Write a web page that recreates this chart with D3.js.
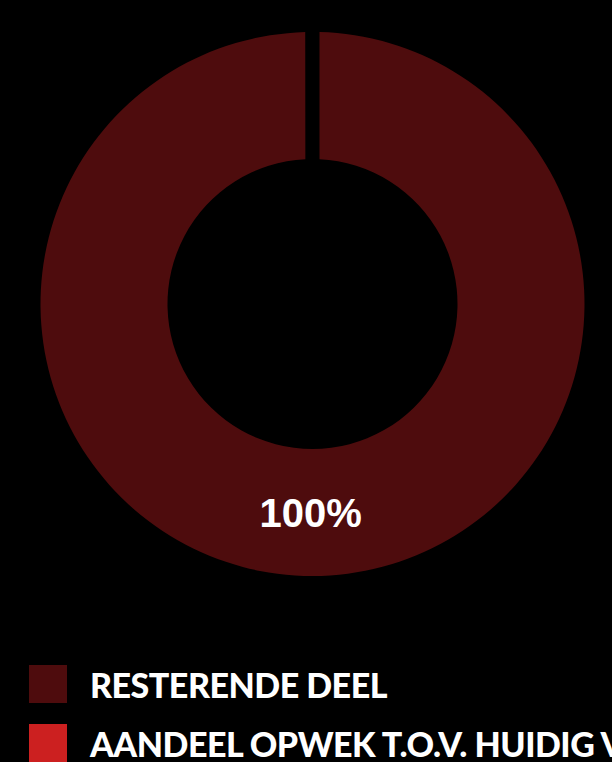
<!DOCTYPE html>
<html>
<head>
<meta charset="utf-8">
<script src="https://cdn.jsdelivr.net/npm/d3@7"></script>
<style>
html,body{margin:0;padding:0;background:#000;overflow:hidden;}
svg{display:block;}
</style>
</head>
<body>
<svg id="chart" width="612" height="762"></svg>
<script>
const categories = ["RESTERENDE DEEL", "AANDEEL OPWEK T.O.V. HUIDIG VERBRUIK"];
const values = [100, 0];
const colors = ["#4e0c0d", "#cc2020"];
const valueLabels = ["100%", "0%"];

const W = 612, H = 762;
const cx = 312.5, cy = 304;
const outerR = 272, innerR = 145;
const svg = d3.select("#chart");
svg.append("rect").attr("width", W).attr("height", H).attr("fill", "#000");

const gapPx = 14;
const padA = 0.001;
const pie = d3.pie().sort(null).value(d => d.v).padAngle(padA);
const arc = d3.arc().innerRadius(innerR).outerRadius(outerR).padRadius(gapPx / padA);
const data = categories.map((c, i) => ({c, v: values[i], color: colors[i], label: valueLabels[i]}));
const arcs = pie(data);

const g = svg.append("g").attr("transform", `translate(${cx},${cy})`);
g.selectAll("path").data(arcs.filter(a => a.data.v > 0)).join("path")
  .attr("d", arc).attr("fill", d => d.data.color);

const lblArc = d3.arc().innerRadius(innerR).outerRadius(outerR);
g.selectAll("text.val").data(arcs.filter(a => a.data.v > 0)).join("text")
  .attr("class", "val")
  .attr("transform", d => `translate(${lblArc.centroid(d)})`)
  .attr("x", -2)
  .attr("text-anchor", "middle")
  .attr("dominant-baseline", "central")
  .attr("fill", "#fff")
  .style("font-family", "'Liberation Sans', Arial, sans-serif")
  .attr("font-weight", "bold")
  .attr("font-size", 40)
  .text(d => d.data.label);

const legend = svg.append("g");
const ly = d3.scaleBand().domain(categories).range([665, 665 + 2 * 59]).paddingInner(0);
const items = legend.selectAll("g").data(data).join("g")
  .attr("transform", d => `translate(29,${ly(d.c)})`);
items.append("rect").attr("width", 38).attr("height", 38).attr("fill", d => d.color);
items.append("text")
  .attr("x", 61).attr("y", 33)
  .attr("fill", "#fff")
  .style("font-family", "Lato, 'Noto Sans', sans-serif")
  .attr("font-weight", 900)
  .attr("font-size", 34)
  .attr("letter-spacing", -0.5)
  .text(d => d.c);
</script>
</body>
</html>
